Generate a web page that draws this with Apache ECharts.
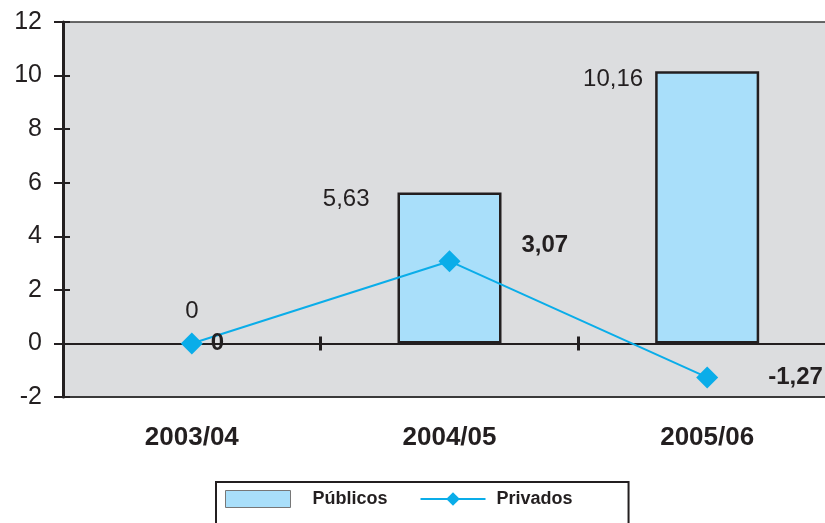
<!DOCTYPE html>
<html>
<head>
<meta charset="utf-8">
<script src="https://cdn.jsdelivr.net/npm/echarts@6/dist/echarts.min.js"></script>
<style>
  html, body { margin: 0; padding: 0; background: #fff; }
  #chart { width: 825px; height: 523px; }
</style>
</head>
<body>
<div id="chart"></div>
<script>
// datos
var categorias = ['2003/04', '2004/05', '2005/06'];
var publicos = [0, 5.63, 10.16];
var privados = [0, 3.07, -1.27];
var yTicks = [-2, 0, 2, 4, 6, 8, 10, 12];

function coma(v) {
    return String(v).replace('.', ',');
}

var fuente = '"Liberation Sans", Arial, sans-serif';

// etiquetas de barras (posicion por punto)
var barLabels = [
    { show: true, position: 'top', distance: 20, fontSize: 24, color: '#231f20' },
    { show: true, position: [-28, -5], align: 'right', verticalAlign: 'top', fontSize: 24, color: '#231f20' },
    { show: true, position: [-12, -4], align: 'right', verticalAlign: 'top', fontSize: 24, color: '#231f20' }
];
var lineLabels = [
    { show: true, position: 'right', distance: 8, fontSize: 24, fontWeight: 'bold', color: '#231f20' },
    { show: true, position: [83, -5], align: 'left', verticalAlign: 'middle', fontSize: 24, fontWeight: 'bold', color: '#231f20' },
    { show: true, position: 'right', distance: 50, fontSize: 24, fontWeight: 'bold', color: '#231f20' }
];

var chart = echarts.init(document.getElementById('chart'));
var option = {
    animation: false,
    textStyle: { fontFamily: fuente },
    grid: {
        left: 63, top: 22, right: -11, bottom: 126,
        outerBoundsMode: 'none',
        show: true,
        backgroundColor: '#dcdddf',
        borderColor: '#3a3a3a',
        borderWidth: 1.5
    },
    legend: {
        left: 216, top: 482,
        padding: [8, 56, 20, 9],
        borderColor: '#231f20',
        borderWidth: 2,
        itemWidth: 65, itemHeight: 17,
        itemGap: 32,
        textStyle: { fontSize: 18, fontWeight: 'bold', color: '#231f20', padding: [0, 0, 0, 17] },
        data: [
            { name: 'Públicos', icon: 'rect', itemStyle: { borderColor: '#777', borderWidth: 1 } },
            { name: 'Privados', textStyle: { padding: [0, 0, 0, 6] } }
        ]
    },
    xAxis: [{
        type: 'category',
        data: categorias,
        position: 'bottom',
        axisLine: { onZero: false, lineStyle: { color: '#3a3a3a', width: 2 } },
        axisTick: { show: false },
        axisLabel: { margin: 28, fontSize: 26, fontWeight: 'bold', color: '#231f20' }
    }, {
        type: 'category',
        data: categorias,
        axisLine: { onZero: true, lineStyle: { color: '#231f20', width: 2 } },
        axisTick: { show: true, inside: true, length: 7, lineStyle: { color: '#231f20', width: 3 } },
        axisLabel: { show: false }
    }, {
        type: 'category',
        data: categorias,
        axisLine: { onZero: true, show: false },
        axisTick: { show: true, length: 7, lineStyle: { color: '#231f20', width: 3 } },
        axisLabel: { show: false }
    }],
    yAxis: [{
        type: 'value',
        min: yTicks[0], max: yTicks[yTicks.length - 1], interval: 2,
        axisLine: { show: true, lineStyle: { color: '#231f20', width: 3 } },
        axisTick: { show: true, length: 9, lineStyle: { color: '#231f20', width: 2 } },
        axisLabel: { margin: 21, fontSize: 25, color: '#231f20' },
        splitLine: { show: false }
    }, {
        type: 'value',
        position: 'left',
        min: yTicks[0], max: yTicks[yTicks.length - 1], interval: 2,
        axisLine: { show: false },
        axisTick: { show: true, inside: true, length: 7, lineStyle: { color: '#231f20', width: 2 } },
        axisLabel: { show: false },
        splitLine: { show: false }
    }],
    series: [{
        name: 'Públicos',
        type: 'bar',
        barWidth: 104,
        itemStyle: { color: '#a9dffa', borderColor: '#231f20', borderWidth: 2.5 },
        data: publicos.map(function (v, i) {
            var d = { value: v, label: Object.assign({ formatter: coma(v) }, barLabels[i]) };
            if (v === 0) d.itemStyle = { borderWidth: 0 };
            return d;
        }),
        z: 2
    }, {
        name: 'Privados',
        type: 'line',
        symbol: 'diamond',
        symbolSize: 22,
        itemStyle: { color: '#0aade9' },
        lineStyle: { color: '#0aade9', width: 2 },
        data: privados.map(function (v, i) {
            return { value: v, label: Object.assign({ formatter: coma(v) }, lineLabels[i]) };
        }),
        z: 5
    }]
};
chart.setOption(option);
</script>
</body>
</html>
